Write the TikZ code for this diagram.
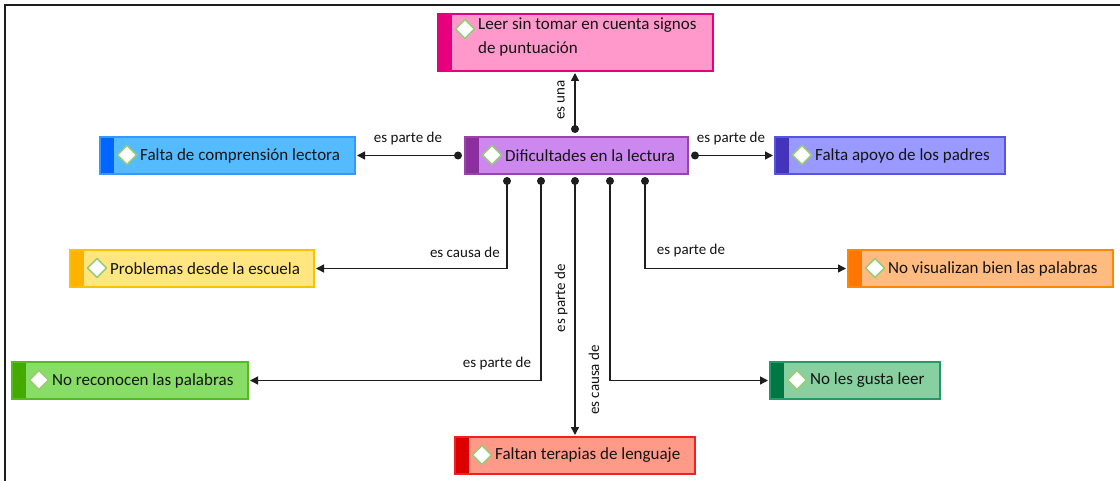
\documentclass[tikz,border=0pt]{standalone}
\usepackage{fontspec}
\setmainfont{Carlito}
\usetikzlibrary{calc,arrows.meta}
\definecolor{pinkS}{HTML}{E6007E}\definecolor{pinkF}{HTML}{FF99CC}
\definecolor{purS}{HTML}{8B2E9E}\definecolor{purF}{HTML}{CC88EE}\definecolor{purB}{HTML}{9944AA}
\definecolor{bluS}{HTML}{0066FF}\definecolor{bluF}{HTML}{55BBFF}\definecolor{bluB}{HTML}{3399FF}
\definecolor{indS}{HTML}{4433BB}\definecolor{indF}{HTML}{9999FF}\definecolor{indB}{HTML}{5555DD}
\definecolor{yelS}{HTML}{FFB300}\definecolor{yelF}{HTML}{FFE680}\definecolor{yelB}{HTML}{FFC000}
\definecolor{oraS}{HTML}{FF7700}\definecolor{oraF}{HTML}{FFBB80}\definecolor{oraB}{HTML}{FF8800}
\definecolor{grnS}{HTML}{44AA00}\definecolor{grnF}{HTML}{88DD66}\definecolor{grnB}{HTML}{55BB22}
\definecolor{teaS}{HTML}{007744}\definecolor{teaF}{HTML}{88D0A0}\definecolor{teaB}{HTML}{229966}
\definecolor{redS}{HTML}{DD0000}\definecolor{redF}{HTML}{FF9988}\definecolor{redB}{HTML}{EE2222}
\definecolor{diaG}{HTML}{99CC77}
\definecolor{lineC}{HTML}{1E1E1E}
\definecolor{txtC}{HTML}{141414}
\tikzset{diay/.store in=\diay, diay=18}
\begin{document}
\begin{tikzpicture}[x=1pt,y=-1pt,
  box/.style n args={4}{draw=#3, line width=1.2pt, fill=#2, minimum width=#4, minimum height=37pt,
    inner sep=0pt, outer sep=0pt, anchor=north west,
    path picture={
      \fill[#1] (path picture bounding box.north west) rectangle ([xshift=14pt]path picture bounding box.south west);
      \coordinate (dc) at ([xshift=27pt,yshift=-\diay pt]path picture bounding box.north west);
      \draw[fill=white, draw=diaG, line width=1.5pt, line join=round] ($(dc)+(0,-9.5)$) -- ($(dc)+(9.5,0)$) -- ($(dc)+(0,9.5)$) -- ($(dc)+(-9.5,0)$) -- cycle;
    }},
  txt/.style={font=\fontsize{17}{24}\selectfont, text=txtC, inner sep=0pt, anchor=west, align=left},
  lab/.style={font=\fontsize{15}{18}\selectfont, text=txtC, inner sep=0pt},
  conn/.style={draw=lineC, line width=1.4pt, -{Triangle[length=8pt,width=8pt]}, shorten >=2pt},
  dot/.style={fill=lineC}
]
\useasboundingbox (0,0) rectangle (1120,481);
\fill[white] (0,0) rectangle (1120,481);
\draw[line width=2pt, lineC] (5,481) -- (5,5) -- (1120,5);

% boxes
\node[box={pinkS}{pinkF}{pinkS}{275pt}, minimum height=57pt, diay=15] (top) at (438,14) {};
\node[txt, anchor=north west] (topt) at (478,18) {Leer sin tomar en cuenta signos\\de puntuación};
\node[box={purS}{purF}{purB}{223pt}] (c) at (465,137) {};
\node[txt] (ct) at (505,155.5) {Dificultades en la lectura};
\node[box={bluS}{bluF}{bluB}{255pt}] (fcl) at (100,137) {};
\node[txt] (fclt) at (140,155.5) {Falta de comprensión lectora};
\node[box={indS}{indF}{indB}{230pt}] (fap) at (775,137) {};
\node[txt] (fapt) at (815,155.5) {Falta apoyo de los padres};
\node[box={yelS}{yelF}{yelB}{244pt}] (pde) at (70,250) {};
\node[txt] (pdet) at (110,268.5) {Problemas desde la escuela};
\node[box={oraS}{oraF}{oraB}{265pt}] (nvb) at (848,250) {};
\node[txt] (nvbt) at (888,268.5) {No visualizan bien las palabras};
\node[box={grnS}{grnF}{grnB}{236pt}] (nrp) at (12,362) {};
\node[txt] (nrpt) at (52,380.5) {No reconocen las palabras};
\node[box={teaS}{teaF}{teaB}{170pt}] (ngl) at (770,362) {};
\node[txt] (nglt) at (810,380.5) {No les gusta leer};
\node[box={redS}{redF}{redB}{240pt}] (ftl) at (455,437) {};
\node[txt] (ftlt) at (495,455.5) {Faltan terapias de lenguaje};

% start points
\coordinate (sT) at (575,129);
\coordinate (sL) at (458,155.5);
\coordinate (sR) at (695,155.5);
\coordinate (d1) at (507,181);
\coordinate (d2) at (541,181);
\coordinate (d3) at (575,181);
\coordinate (d4) at (610,181);
\coordinate (d5) at (645,181);

\draw[conn] (sT) -- (sT |- top.south);
\draw[conn] (sL) -- (sL -| fcl.east);
\draw[conn] (sR) -- (sR -| fap.west);
\draw[conn] (d1) |- (pde.east);
\draw[conn] (d2) |- (nrp.east);
\draw[conn] (d3) -- (d3 |- ftl.north);
\draw[conn] (d4) |- (ngl.west);
\draw[conn] (d5) |- (nvb.west);
\foreach \p in {sT,sL,sR,d1,d2,d3,d4,d5} \fill[dot] (\p) circle (4pt);

% labels
\node[lab, rotate=90] (l1) at (561,100) {es una};
\node[lab] (l2) at (408,139) {es parte de};
\node[lab] (l3) at (731,139) {es parte de};
\node[lab, anchor=east] (l4) at (500,252) {es causa de};
\node[lab] (l5) at (497,364) {es parte de};
\node[lab] (l6) at (691,251) {es parte de};
\node[lab, rotate=90] (l7) at (561,298) {es parte de};
\node[lab, rotate=90] (l8) at (594,380) {es causa de};
\end{tikzpicture}
\end{document}
